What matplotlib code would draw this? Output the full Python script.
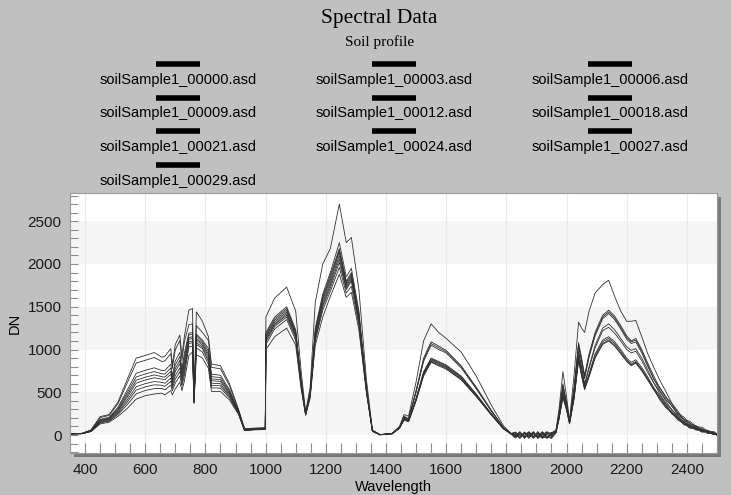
import matplotlib.pyplot as plt
from matplotlib.patches import Rectangle
from matplotlib.lines import Line2D
from matplotlib.ticker import MultipleLocator

# wavelength grid (nm) and DN values
wavelength = [350, 390, 420, 450, 480, 510, 540, 570, 600, 630, 655, 665, 685, 690, 700, 715, 722, 730, 745, 757,
              762, 770, 790, 810, 820, 850, 880, 910, 930, 960, 999,
              1001, 1030, 1070, 1100, 1118, 1133, 1148, 1165, 1190, 1215, 1245, 1268, 1285, 1310, 1335, 1355, 1380, 1420,
              1445, 1460, 1475, 1500, 1525, 1550, 1575, 1600, 1650, 1700, 1750, 1790, 1815,
              1830, 1845, 1860, 1875, 1890, 1905, 1920, 1935, 1950, 1965,
              1975, 1988, 2000, 2010, 2025, 2040, 2050, 2060, 2075, 2095,
              2120, 2140, 2160, 2180, 2200, 2215, 2230, 2250, 2270, 2290, 2310, 2330, 2350, 2370, 2390, 2410,
              2430, 2450, 2470, 2490, 2500]

dn_00000 = [15, 20, 60, 215, 240, 390, 650, 900, 930, 965, 910, 920, 1010, 820, 1060, 1170, 920, 1150, 1460, 1480,
            420, 1440, 1330, 1150, 830, 810, 600, 300, 75, 80, 85,
            1380, 1600, 1730, 1450, 750, 270, 560, 1550, 2000, 2180, 2700, 2250, 2310, 1700, 650, 60, 5, 20,
            100, 240, 220, 620, 1100, 1300, 1200, 1130, 970, 690, 350, 110, 20,
            10, -30, 35, -20, 40, -35, 20, -40, 25, 60,
            300, 740, 450, 170, 700, 1320, 1250, 1200, 1450, 1660,
            1760, 1810, 1620, 1450, 1330, 1330, 1340, 1150, 950, 790, 640, 510, 370, 280, 180, 160, 100, 90, 45, 40, 5]
dn_00003 = [15, 20, 58, 205, 229, 370, 609, 842, 874, 907, 860, 866, 951, 778, 998, 1104, 872, 1088, 1290, 1300,
            414, 1280, 1200, 1106, 792, 774, 577, 293, 72, 78, 83,
            1200, 1380, 1500, 1230, 640, 255, 500, 1250, 1650, 1900, 2250, 1850, 1950, 1450, 560, 50, 5, 18,
            90, 220, 190, 520, 900, 1090, 1040, 990, 810, 560, 290, 90, 18,
            -20, 30, -35, 40, -15, 35, -30, 15, -35, 45,
            250, 600, 380, 160, 560, 1080, 900, 700, 950, 1200,
            1400, 1460, 1390, 1280, 1160, 1100, 1130, 1000, 840, 690, 550, 440, 370, 250, 210, 130, 110, 60, 55, 15, 22]
dn_00006 = [14, 19, 53, 184, 207, 327, 524, 722, 756, 786, 755, 754, 829, 691, 868, 966, 772, 958, 1190, 1200,
            402, 1180, 1110, 1013, 712, 699, 530, 278, 66, 73, 78,
            1180, 1360, 1480, 1210, 630, 250, 490, 1220, 1620, 1870, 2180, 1800, 1900, 1420, 550, 50, 5, 17,
            90, 215, 185, 510, 880, 1070, 1020, 975, 800, 550, 285, 88, 18,
            30, -15, 20, -40, 30, -20, 40, -30, 15, 50,
            240, 580, 370, 155, 540, 1060, 880, 680, 930, 1180,
            1380, 1440, 1370, 1260, 1140, 1090, 1110, 980, 820, 650, 555, 450, 335, 260, 170, 140, 85, 75, 30, 32, 0]
dn_00009 = [14, 18, 51, 176, 199, 312, 494, 679, 714, 742, 717, 713, 785, 659, 821, 917, 736, 911, 1170, 1180,
            397, 1160, 1090, 980, 683, 672, 513, 272, 64, 71, 76,
            1160, 1340, 1460, 1200, 620, 250, 480, 1200, 1600, 1840, 2160, 1780, 1880, 1400, 545, 48, 4, 17,
            88, 210, 180, 500, 860, 1050, 1000, 960, 785, 540, 280, 86, 17,
            -5, 35, -25, 15, -40, 20, -15, 35, -20, 40,
            230, 560, 360, 150, 520, 1040, 860, 660, 910, 1160,
            1360, 1420, 1350, 1240, 1120, 1070, 1090, 960, 800, 660, 520, 415, 345, 230, 185, 110, 100, 50, 48, 10, 20]
dn_00012 = [14, 18, 49, 169, 191, 298, 466, 641, 676, 703, 683, 677, 745, 631, 779, 873, 704, 869, 1140, 1150,
            393, 1130, 1070, 950, 657, 648, 497, 268, 62, 69, 74,
            1150, 1320, 1440, 1190, 610, 245, 475, 1180, 1580, 1810, 2140, 1760, 1860, 1380, 540, 48, 4, 16,
            85, 200, 170, 430, 740, 900, 860, 820, 690, 480, 250, 80, 16,
            20, -35, 15, 30, -30, 40, -35, 20, 30, 35,
            220, 520, 340, 150, 480, 980, 800, 600, 800, 1050,
            1250, 1300, 1230, 1130, 1030, 990, 1010, 900, 760, 610, 510, 400, 290, 230, 150, 120, 70, 65, 25, 28, -1]
dn_00018 = [13, 17, 48, 163, 185, 286, 443, 607, 643, 669, 654, 646, 711, 607, 743, 835, 676, 833, 1120, 1130,
            390, 1110, 1050, 924, 635, 627, 484, 263, 60, 68, 73,
            1130, 1300, 1420, 1170, 600, 245, 470, 1160, 1550, 1780, 2100, 1740, 1840, 1360, 530, 46, 4, 16,
            85, 195, 168, 420, 730, 890, 850, 810, 680, 470, 245, 78, 16,
            -30, 20, -20, -5, 35, -30, 25, -15, 5, 40,
            210, 500, 330, 145, 470, 960, 780, 580, 780, 1020,
            1220, 1260, 1190, 1100, 1000, 960, 980, 870, 730, 610, 480, 370, 300, 200, 160, 95, 88, 45, 45, 7, 18]
dn_00021 = [13, 17, 46, 156, 177, 271, 412, 564, 601, 626, 616, 605, 667, 575, 696, 785, 640, 786, 1090, 1100,
            385, 1080, 1030, 891, 606, 600, 467, 258, 58, 66, 71,
            1110, 1290, 1400, 1160, 590, 240, 465, 1140, 1520, 1750, 2060, 1720, 1820, 1340, 525, 45, 3, 15,
            84, 190, 165, 415, 720, 880, 840, 800, 670, 465, 242, 77, 15,
            35, -5, 25, -30, 15, -40, 5, 40, -10, 30,
            200, 470, 320, 140, 450, 920, 740, 560, 720, 950,
            1110, 1150, 1090, 1000, 900, 850, 880, 790, 680, 550, 460, 360, 260, 210, 130, 110, 65, 60, 22, 26, -2]
dn_00024 = [13, 16, 44, 149, 170, 257, 385, 526, 563, 587, 582, 569, 628, 547, 654, 741, 608, 744, 1070, 1080,
            381, 1060, 1010, 861, 580, 576, 452, 253, 56, 64, 69,
            1090, 1270, 1380, 1140, 580, 240, 460, 1120, 1500, 1720, 2020, 1700, 1800, 1320, 520, 45, 3, 15,
            82, 185, 162, 410, 710, 870, 830, 790, 660, 460, 240, 76, 15,
            -15, 40, -40, 20, -20, 25, -20, -35, 20, 35,
            195, 460, 310, 140, 440, 900, 720, 550, 700, 930,
            1090, 1130, 1070, 980, 880, 830, 860, 770, 660, 555, 430, 330, 270, 185, 145, 85, 80, 38, 40, 5, 17]
dn_00027 = [12, 16, 43, 141, 162, 242, 354, 482, 521, 543, 545, 529, 584, 516, 608, 692, 572, 698, 1030, 1040,
            377, 1020, 970, 828, 552, 549, 435, 248, 53, 63, 68,
            1060, 1240, 1350, 1110, 570, 235, 450, 1100, 1460, 1680, 1960, 1660, 1740, 1280, 510, 44, 3, 14,
            80, 180, 160, 405, 700, 860, 820, 780, 650, 455, 238, 75, 14,
            5, -40, 30, -15, 20, -5, 35, -20, -40, 25,
            190, 450, 300, 135, 430, 880, 700, 540, 690, 910,
            1070, 1110, 1050, 960, 870, 820, 850, 760, 650, 525, 440, 345, 245, 200, 120, 100, 58, 55, 18, 24, -4]
dn_00029 = [12, 15, 40, 130, 150, 220, 310, 420, 460, 480, 490, 470, 520, 470, 540, 620, 520, 630, 930, 970,
            370, 940, 900, 780, 510, 510, 410, 240, 50, 60, 65,
            1000, 1150, 1250, 1050, 540, 230, 430, 1050, 1380, 1620, 1880, 1610, 1670, 1230, 490, 42, 3, 14,
            80, 175, 155, 400, 690, 850, 810, 770, 645, 450, 235, 74, 14,
            -35, 15, -5, 35, -30, 5, -40, 25, 5, 30,
            185, 440, 290, 130, 420, 870, 690, 530, 680, 900,
            1060, 1100, 1040, 950, 860, 810, 840, 750, 640, 535, 410, 320, 260, 175, 135, 80, 75, 34, 37, 3, 16]

labels = ['soilSample1_00000.asd', 'soilSample1_00003.asd', 'soilSample1_00006.asd',
          'soilSample1_00009.asd', 'soilSample1_00012.asd', 'soilSample1_00018.asd',
          'soilSample1_00021.asd', 'soilSample1_00024.asd', 'soilSample1_00027.asd',
          'soilSample1_00029.asd']
spectra = [dn_00000, dn_00003, dn_00006, dn_00009, dn_00012, dn_00018,
           dn_00021, dn_00024, dn_00027, dn_00029]

W, H = 731, 495
fig = plt.figure(figsize=(W / 100, H / 100), dpi=100, facecolor='#c0c0c0')
plt.rcParams['font.family'] = ['Liberation Sans', 'DejaVu Sans']

ax_l, ax_b, ax_w, ax_h = 70, 42, 647, 260
# drop shadow behind the plot area
fig.add_artist(Rectangle(((ax_l + 4) / W, (ax_b - 4) / H), ax_w / W, ax_h / H,
                         transform=fig.transFigure, facecolor='#7a7a7a', edgecolor='none', zorder=-1))
ax = fig.add_axes([ax_l / W, ax_b / H, ax_w / W, ax_h / H])
ax.set_facecolor('white')

for lo in [0, 1000, 2000]:
    ax.axhspan(lo, lo + 500, color='#f5f5f5', zorder=0, lw=0)
for xv in range(400, 2500, 200):
    ax.axvline(xv, color='#ebebeb', lw=0.8, zorder=0.5)

for s in spectra:
    ax.plot(wavelength, s, color='#303030', lw=0.6, zorder=2)

ax.set_xlim(350, 2500)
ax.set_ylim(-210, 2830)
ax.xaxis.set_major_locator(MultipleLocator(200))
ax.xaxis.set_minor_locator(MultipleLocator(50))
ax.yaxis.set_major_locator(MultipleLocator(500))
ax.yaxis.set_minor_locator(MultipleLocator(100))
ax.tick_params(axis='both', which='both', direction='in', color='#8c8c8c', width=0.8)
ax.tick_params(axis='x', which='both', length=7)
ax.tick_params(axis='y', which='both', length=6)
ax.tick_params(axis='both', which='major', labelsize=11, labelcolor='#1a1a1a', pad=6)
ax.tick_params(axis='x', which='major', pad=7)
for sp in ax.spines.values():
    sp.set_color('#9a9a9a')
    sp.set_linewidth(0.8)

ax.set_xlabel('Wavelength', fontsize=10.5, labelpad=2)
ax.set_ylabel('DN', fontsize=10.5, labelpad=4)

fig.text(379 / W, 1 - 18 / H, 'Spectral Data', family='Liberation Serif', fontsize=15.5,
         ha='center', va='center')
fig.text(380 / W, 1 - 42 / H, 'Soil profile', family='Liberation Serif', fontsize=11,
         ha='center', va='center')

col_x = [178, 394, 610]
for i, lab in enumerate(labels):
    r, c = divmod(i, 3)
    cx = col_x[c]
    ly = 64 + r * 33.5
    fig.add_artist(Line2D([(cx - 22) / W, (cx + 22) / W], [1 - ly / H, 1 - ly / H],
                          transform=fig.transFigure, color='black', lw=4, solid_capstyle='butt'))
    fig.text(cx / W, 1 - (ly + 16) / H, lab, fontsize=10.5, ha='center', va='center')

fig.savefig('out.png', dpi=100, facecolor=fig.get_facecolor())
